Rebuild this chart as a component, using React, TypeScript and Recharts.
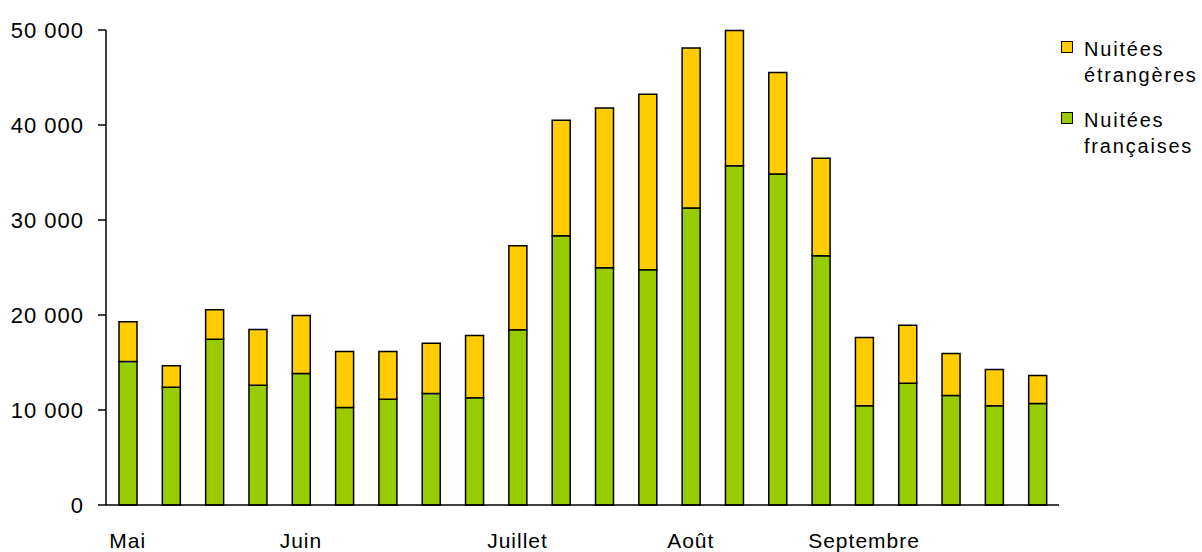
import React from "react";
import { BarChart, Bar, XAxis, YAxis } from "recharts";

const weeks = [1, 2, 3, 4, 5, 6, 7, 8, 9, 10, 11, 12, 13, 14, 15, 16, 17, 18, 19, 20, 21, 22];
const monthLabels = ["Mai", "", "", "", "Juin", "", "", "", "", "Juillet", "", "", "", "Août", "", "", "", "Septembre", "", "", "", ""];
const francaises = [15100, 12400, 17450, 12600, 13850, 10270, 11120, 11750, 11300, 18450, 28350, 24980, 24760, 31260, 35700, 34850, 26240, 10460, 12820, 11530, 10460, 10680];
const totals = [19300, 14670, 20550, 18480, 19950, 16150, 16150, 17030, 17850, 27300, 40500, 41800, 43230, 48110, 49960, 45520, 36500, 17620, 18920, 15960, 14260, 13640];
const etrangeres = totals.map((t, i) => t - francaises[i]);
const yTicks = [0, 10000, 20000, 30000, 40000, 50000];

const seriesNames = ["Nuitées étrangères", "Nuitées françaises"];
const legendLines = [["Nuitées", "étrangères"], ["Nuitées", "françaises"]];
const colors = { etr: "#FFCC00", fra: "#99CC00" };

const data = weeks.map((w, i) => ({
  week: w,
  fra: francaises[i],
  etr: etrangeres[i],
}));

const FONT = "'Liberation Sans', Arial, sans-serif";

const fmt = (v: number) => {
  if (v === 0) return "0";
  const s = String(v);
  return s.replace(/\B(?=(\d{3})+(?!\d))/g, " ");
};

const LegendBox = () => {
  const cols = [colors.etr, colors.fra];
  return (
    <div
      style={{
        position: "absolute",
        left: 1061,
        top: 36,
        width: 141,
        fontFamily: FONT,
        fontSize: 20,
        letterSpacing: 1.8,
        lineHeight: "26px",
        color: "#000",
      }}
    >
      {legendLines.map((lines, i) => (
        <div key={seriesNames[i]} style={{ position: "relative", paddingLeft: 23, marginBottom: i === 0 ? 19 : 0 }}>
          <div
            style={{
              position: "absolute",
              left: 0,
              top: 5,
              width: 10,
              height: 10,
              background: cols[i],
              border: "1.5px solid #000",
            }}
          />
          {lines.map((l) => (
            <div key={l} style={{ whiteSpace: "nowrap" }}>{l}</div>
          ))}
        </div>
      ))}
    </div>
  );
};

export default function App() {
  return (
    <div style={{ position: "absolute", left: 0, top: 0, width: 1202, height: 552, background: "#fff" }}>
      <BarChart
        width={1202}
        height={552}
        data={data}
        margin={{ top: 30, right: 143, bottom: 0, left: 0 }}
      >
        <XAxis
          dataKey="week"
          type="category"
          height={47}
          interval={0}
          tickLine={false}
          tickSize={0}
          tickMargin={28}
          axisLine={{ stroke: "#000", strokeWidth: 1.5 }}
          tickFormatter={(v: number) => monthLabels[weeks.indexOf(v)] ?? ""}
          tick={{ fill: "#000", fontSize: 21, fontFamily: FONT, letterSpacing: 1 }}
        />
        <YAxis
          width={106}
          domain={[0, 50000]}
          ticks={yTicks}
          interval={0}
          tickSize={8}
          tickMargin={14}
          axisLine={{ stroke: "#000", strokeWidth: 1.5 }}
          tickLine={{ stroke: "#000", strokeWidth: 1.5 }}
          tickFormatter={fmt}
          tick={{ fill: "#000", fontSize: 22, fontFamily: FONT, letterSpacing: 1 }}
        />
        <Bar dataKey="fra" name={seriesNames[1]} stackId="a" fill={colors.fra} stroke="#000" strokeWidth={1.5} barSize={18} isAnimationActive={false} />
        <Bar dataKey="etr" name={seriesNames[0]} stackId="a" fill={colors.etr} stroke="#000" strokeWidth={1.5} barSize={18} isAnimationActive={false} />
      </BarChart>
      <LegendBox />
    </div>
  );
}
